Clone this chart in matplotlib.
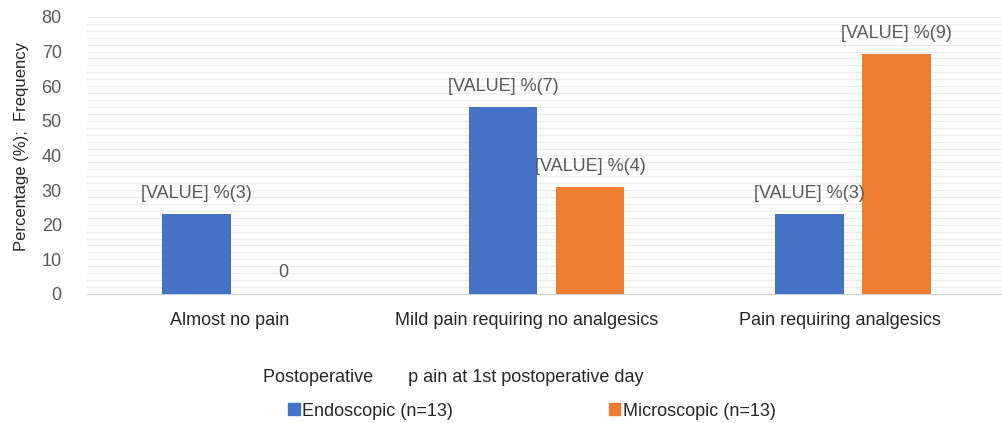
import numpy as np
import matplotlib.pyplot as plt
import matplotlib.transforms as mtransforms
from matplotlib.patches import Patch

plt.rcParams['font.family'] = ['Liberation Sans', 'DejaVu Sans']

categories = ['Almost no pain', 'Mild pain requiring no analgesics', 'Pain requiring analgesics']
endo_pct = [23.08, 53.85, 23.08]
micro_pct = [0, 30.77, 69.23]
endo_n = [3, 7, 3]
micro_n = [0, 4, 9]

blue = '#4472C4'
orange = '#ED7D31'
txt = '#595959'
dark = '#262626'

fig = plt.figure(figsize=(10.02, 4.23), dpi=100)
ax = fig.add_axes([0.0866, 0.305, 0.9174, 0.655])

x = np.arange(len(categories))
w = 0.2235
off = 0.142
b1 = ax.bar(x - off, endo_pct, w, color=blue, zorder=3)
b2 = ax.bar(x + off, micro_pct, w, color=orange, zorder=3)

for bars, ns in [(b1, endo_n), (b2, micro_n)]:
    for rect, n in zip(bars, ns):
        h = rect.get_height()
        label = '0' if n == 0 else '[VALUE] %%(%d)' % n
        ax.annotate(label, (rect.get_x() + rect.get_width() / 2, h),
                    xytext=(0, 9), textcoords='offset points',
                    ha='center', va='bottom', fontsize=13, color=txt)

ax.set_xlim(-0.5, 2.5)
ax.set_ylim(0, 80)
ax.set_yticks(np.arange(0, 81, 10))
ax.set_yticks(np.arange(0, 81, 2), minor=True)
ax.yaxis.grid(True, which='both', color='#ececec', linewidth=0.8, zorder=0)
ax.tick_params(axis='y', which='both', length=0, labelsize=13, labelcolor=txt, pad=18)
ax.set_xticks(x)
ax.set_xticklabels(categories)
ax.tick_params(axis='x', length=0, labelsize=13, pad=13, labelcolor=dark)
# the category labels sit a little left of the bar groups in the original
for lbl, dx in zip(ax.get_xticklabels(), [-10, -20, -13]):
    lbl.set_transform(lbl.get_transform() + mtransforms.Affine2D().translate(dx, 0))
for s in ['top', 'right', 'left']:
    ax.spines[s].set_visible(False)
ax.spines['bottom'].set_color('#d0d0d0')

ax.set_ylabel('Percentage (%);  Frequency', fontsize=12, color=dark)
ax.yaxis.set_label_coords(-0.063, 0.534)

fig.text(0.262, 0.107, 'Postoperative       p ain at 1st postoperative day',
         fontsize=13, color=dark, va='center')
handles = [Patch(color=blue, label='Endoscopic (n=13)'),
           Patch(color=orange, label='Microscopic (n=13)')]
fig.legend(handles=handles, loc='center left', bbox_to_anchor=(0.271, 0.028),
           ncol=2, frameon=False, fontsize=13, handlelength=0.66, handleheight=0.66,
           handletextpad=0.15, columnspacing=8.6, labelcolor=dark)

fig.savefig('out.png', dpi=100)
